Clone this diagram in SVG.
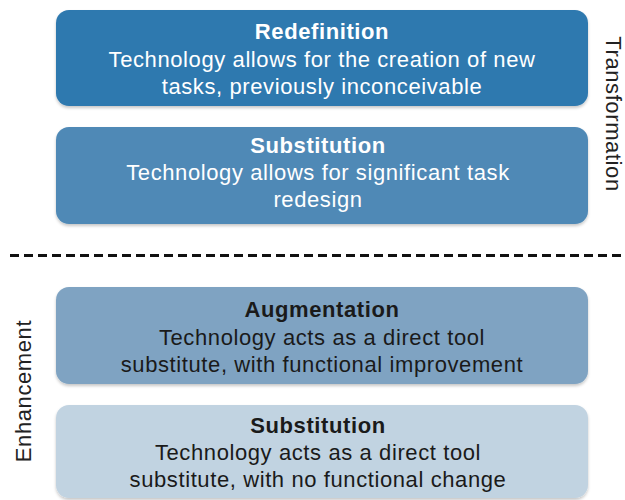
<svg xmlns="http://www.w3.org/2000/svg" width="625" height="500" viewBox="0 0 625 500">
<style>
.box{stroke:none;filter:url(#sh)}
.t{font-family:"Liberation Sans",Arial,sans-serif;font-size:22px;letter-spacing:0.6px;text-anchor:middle}
.b{font-weight:bold}
.w{fill:#ffffff}
.k{fill:#1a1a1a}
.side{font-family:"Liberation Sans",Arial,sans-serif;font-size:22px;letter-spacing:0.6px;fill:#222;text-anchor:middle}
</style>
<defs>
<filter id="sh" x="-5%" y="-10%" width="110%" height="125%">
<feDropShadow dx="0" dy="2" stdDeviation="1.5" flood-color="#000" flood-opacity="0.22"/>
</filter>
</defs>
<rect width="625" height="500" fill="#ffffff"/>
<g id="redefinition">
<rect class="box" x="56" y="10" width="532" height="96" rx="13" fill="#2f79af"/>
<text class="t b w" x="322" y="39">Redefinition</text>
<text class="t w" x="322" y="67">Technology allows for the creation of new</text>
<text class="t w" x="322" y="94">tasks, previously inconceivable</text>
</g>
<g id="modification">
<rect class="box" x="56" y="127" width="532" height="97" rx="13" fill="#4f89b6"/>
<text class="t b w" x="318" y="153">Substitution</text>
<text class="t w" x="318" y="180">Technology allows for significant task</text>
<text class="t w" x="318" y="207">redesign</text>
</g>
<g id="augmentation">
<rect class="box" x="56" y="287" width="532" height="97" rx="13" fill="#7fa3c2"/>
<text class="t b k" x="322" y="317">Augmentation</text>
<text class="t k" x="322" y="345">Technology acts as a direct tool</text>
<text class="t k" x="322" y="372">substitute, with functional improvement</text>
</g>
<g id="substitution">
<rect class="box" x="56" y="405" width="532" height="93" rx="13" fill="#c1d3e1"/>
<text class="t b k" x="318" y="433">Substitution</text>
<text class="t k" x="318" y="460">Technology acts as a direct tool</text>
<text class="t k" x="318" y="487">substitute, with no functional change</text>
</g>
<g id="connectors">
<line x1="10" y1="255.5" x2="625" y2="255.5" stroke="#111" stroke-width="3" stroke-dasharray="9 5"/>
</g>
<g id="labels">
<text class="side" transform="translate(606,114) rotate(90)">Transformation</text>
<text class="side" transform="translate(31,391) rotate(-90)">Enhancement</text>
</g>
</svg>
